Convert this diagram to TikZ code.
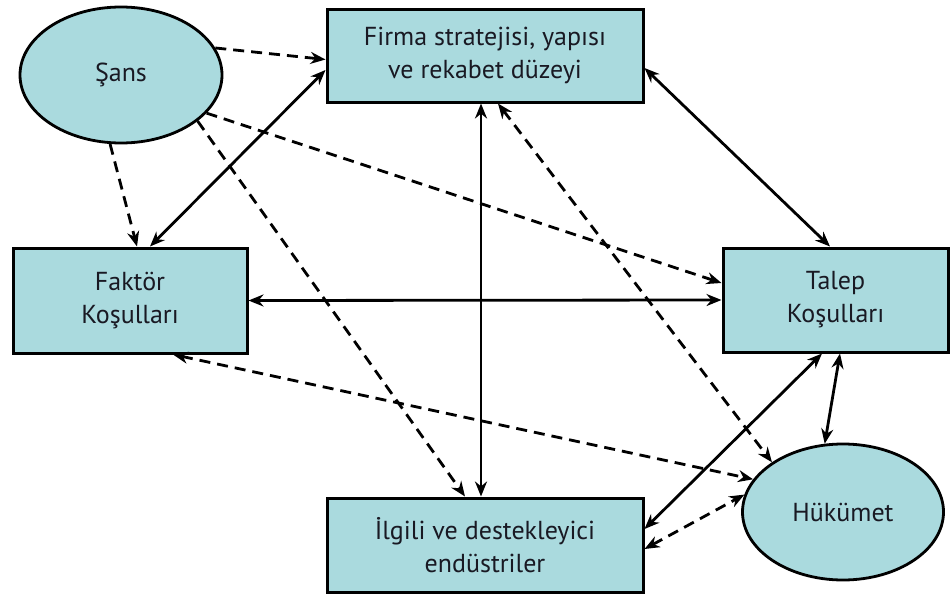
\documentclass[tikz,border=0pt]{standalone}
\usepackage{fontspec}
\setmainfont{PT Sans}
\usetikzlibrary{shapes.geometric,arrows.meta}
\definecolor{boxfill}{RGB}{170,218,222}
\definecolor{txt}{RGB}{25,25,35}
\begin{document}
\begin{tikzpicture}[x=1pt,y=-1pt,
  every node/.style={font=\fontsize{26}{33}\selectfont, text=txt, align=center},
  rbox/.style={draw=black, line width=3pt, fill=boxfill, rectangle, inner sep=0pt},
  obox/.style={draw=black, line width=2.8pt, fill=boxfill, ellipse, inner sep=0pt},
  link/.style={line width=2.8pt, draw=black, >={Stealth[length=15pt,width=12pt]}},
  dlink/.style={link, dash pattern=on 11pt off 7pt}]
\useasboundingbox (0,0) rectangle (951,597);
\node[obox, minimum width=202pt, minimum height=136pt] (sans) at (121,75) {Şans};
\node[rbox, minimum width=316pt, minimum height=93pt] (firma) at (485,55.5) {Firma stratejisi, yapısı\\ve rekabet düzeyi};
\node[rbox, minimum width=234pt, minimum height=105pt] (faktor) at (130,300.5) {Faktör\\Koşulları};
\node[rbox, minimum width=225pt, minimum height=104pt] (talep) at (835.5,300) {Talep\\Koşulları};
\node[rbox, minimum width=316pt, minimum height=94pt] (ilgili) at (485,545) {İlgili ve destekleyici\\endüstriler};
\node[obox, minimum width=201pt, minimum height=136pt] (hukumet) at (843,512) {Hükümet};
% dashed from Şans
\draw[dlink,->] (sans.16) -- ([yshift=-4pt]firma.west);
\draw[dlink,->] (sans.261) -- ([xshift=7pt]faktor.north);
\draw[dlink,->] (sans.-24) -- ([yshift=17pt]talep.west);
\draw[dlink,->] (sans.-31) -- ([xshift=-20pt]ilgili.north);
% solid two-way
\draw[link,<->] ([xshift=20pt]faktor.north) -- ([yshift=-14.5pt]firma.west);
\draw[link,<->] ([xshift=-4pt]firma.south) -- ([xshift=-4pt]ilgili.north);
\draw[link,<->] ([yshift=-12.5pt]firma.east) -- ([xshift=-5.5pt]talep.north);
\draw[link,<->] (faktor.east) -- (talep.west);
\draw[link,<->] ([xshift=-13.5pt]talep.south) -- ([yshift=16pt]ilgili.east);
\draw[link,<->] ([xshift=4.5pt]talep.south) -- (hukumet.105);
% dashed two-way
\draw[dlink,<->] ([xshift=13pt]firma.south) -- (hukumet.145);
\draw[dlink,<->] ([xshift=43pt]faktor.south) -- (hukumet.160);
\draw[dlink,<->] ([yshift=-4pt]ilgili.east) -- (hukumet.170);
\end{tikzpicture}
\end{document}
